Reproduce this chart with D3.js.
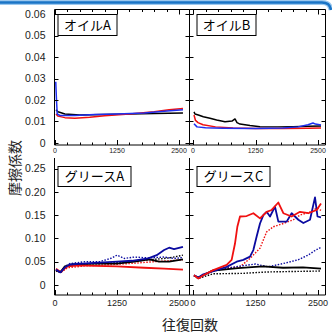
<!DOCTYPE html>
<html><head><meta charset="utf-8">
<script src="https://cdn.jsdelivr.net/npm/d3@7"></script>
<style>body{margin:0;background:#fff}svg{display:block}</style>
</head><body>
<svg id="c" width="332" height="335"></svg>
<script>
// ---- data ----
const panelNames = ["オイルA", "オイルB", "グリースA", "グリースC"];
const xTicks = [0, 1250, 2500];
const yTicksOil = [0, 0.01, 0.02, 0.03, 0.04, 0.05, 0.06];
const yTickLabelsOil = ["0", "0.01", "0.02", "0.03", "0.04", "0.05", "0.06"];
const yTicksGrease = [0, 0.05, 0.10, 0.15, 0.20, 0.25];
const yTickLabelsGrease = ["0", "0.05", "0.10", "0.15", "0.20", "0.25"];
const xLabel = "往復回数";
const yLabel = "摩擦係数";

const oilA_black = [[20,0.0155],[60,0.0145],[200,0.0135],[500,0.013],[1000,0.0132],[1500,0.0135],[2000,0.0137],[2580,0.014]];
const oilA_red = [[20,0.0135],[60,0.0125],[200,0.0118],[400,0.0115],[700,0.012],[1000,0.0127],[1500,0.0135],[2000,0.0145],[2300,0.0155],[2580,0.016]];
const oilA_blue = [[15,0.0285],[30,0.02],[45,0.0135],[100,0.0128],[400,0.0128],[800,0.0132],[1250,0.0135],[1800,0.014],[2200,0.0148],[2580,0.0155]];

const oilB_black = [[20,0.0145],[40,0.0135],[107,0.013],[207,0.0122],[340,0.0115],[473,0.0107],[640,0.0099],[780,0.0102],[840,0.0112],[880,0.0095],[940,0.0088],[1140,0.0081],[1340,0.0076],[1700,0.0075],[2000,0.0076],[2300,0.0078],[2560,0.0079]];
const oilB_red = [[20,0.013],[50,0.0105],[100,0.0095],[200,0.0085],[450,0.0075],[800,0.007],[1250,0.0068],[1800,0.0068],[2300,0.0069],[2560,0.007]];
const oilB_blue = [[20,0.009],[80,0.0075],[250,0.0071],[600,0.0069],[1250,0.0068],[1800,0.007],[2100,0.0075],[2300,0.0085],[2400,0.0093],[2450,0.0088],[2560,0.0084]];

const greaseA_blue = [[20,0.033],[110,0.027],[200,0.038],[300,0.044],[550,0.046],[880,0.048],[1250,0.05],[1550,0.052],[1880,0.057],[2050,0.064],[2200,0.075],[2300,0.08],[2400,0.077],[2580,0.082]];
const greaseA_blueDot = [[20,0.033],[110,0.026],[200,0.04],[300,0.046],[600,0.05],[900,0.05],[1150,0.058],[1250,0.064],[1400,0.057],[1600,0.06],[1900,0.058],[2200,0.06],[2400,0.057],[2580,0.059]];
const greaseA_black = [[20,0.032],[110,0.028],[200,0.04],[350,0.044],[800,0.046],[1250,0.046],[1600,0.05],[1900,0.055],[2100,0.05],[2300,0.05],[2580,0.055]];
const greaseA_blackDot = [[20,0.03],[110,0.027],[250,0.04],[600,0.045],[1000,0.046],[1500,0.05],[2000,0.055],[2300,0.058],[2580,0.064]];
const greaseA_red = [[20,0.035],[110,0.028],[250,0.04],[500,0.042],[800,0.041],[1250,0.04],[1800,0.037],[2200,0.035],[2580,0.033]];
const greaseA_redDot = [[20,0.032],[110,0.026],[250,0.037],[600,0.041],[1000,0.043],[1500,0.046],[2000,0.05],[2300,0.052],[2580,0.054]];

const greaseC_red = [[20,0.021],[107,0.014],[207,0.021],[407,0.032],[673,0.043],[773,0.054],[840,0.089],[887,0.125],[940,0.147],[1073,0.148],[1207,0.154],[1340,0.143],[1473,0.157],[1573,0.161],[1707,0.177],[1807,0.154],[1973,0.147],[2140,0.157],[2307,0.154],[2473,0.161],[2560,0.175]];
const greaseC_blue = [[20,0.021],[107,0.016],[207,0.023],[473,0.032],[673,0.039],[873,0.05],[1007,0.054],[1140,0.061],[1207,0.075],[1273,0.104],[1340,0.132],[1407,0.15],[1473,0.157],[1540,0.147],[1640,0.168],[1707,0.136],[1873,0.136],[1973,0.154],[2107,0.14],[2207,0.133],[2340,0.14],[2440,0.188],[2490,0.147],[2560,0.145]];
const greaseC_redDot = [[20,0.021],[107,0.016],[400,0.032],[700,0.037],[940,0.039],[1140,0.057],[1340,0.079],[1473,0.114],[1607,0.125],[1807,0.132],[2007,0.14],[2140,0.15],[2340,0.157],[2480,0.165],[2560,0.16]];
const greaseC_blueDot = [[20,0.02],[107,0.015],[400,0.03],[900,0.04],[1250,0.045],[1500,0.039],[1800,0.046],[2100,0.054],[2300,0.064],[2440,0.074],[2560,0.081]];
const greaseC_black = [[20,0.02],[107,0.016],[400,0.031],[900,0.036],[1250,0.039],[1400,0.04],[1800,0.037],[2200,0.038],[2560,0.035]];
const greaseC_blackDot = [[20,0.02],[107,0.014],[400,0.024],[1000,0.025],[1500,0.028],[2000,0.029],[2560,0.03]];

// ---- styles ----
const RED = "#f01010", BLUE = "#1f2ff0", NAVY = "#0a0aa0", BLACK = "#000";
const svg = d3.select("#c");
const NUMF = "'Liberation Sans', Arial, sans-serif";
const CJKF = "'Noto Sans CJK JP', sans-serif";

// decorative top line
const deco = d3.path(); deco.moveTo(0, 2.5); deco.lineTo(322, 2.5); deco.quadraticCurveTo(330, 2.5, 331, 10);
svg.append("path").attr("d", deco.toString()).attr("fill", "none").attr("stroke", "#9cc8ee").attr("stroke-width", 5);
svg.append("path").attr("d", deco.toString()).attr("fill", "none").attr("stroke", "#1a74c6").attr("stroke-width", 2.5);

const panels = [
  {name: panelNames[0], xr: [55, 179], left: 54.5, right: 189.5, top: 9.5, bottom: 145, yd: yTicksOil, yl: yTickLabelsOil, yr: [143, 14], ydom: [0, 0.06], topBorder: true, yLabels: true, xfs: 7, lw: 1.5,
    series: [{d: oilA_black, c: BLACK}, {d: oilA_red, c: RED}, {d: oilA_blue, c: BLUE}]},
  {name: panelNames[1], xr: [193, 318], left: 189.5, right: 325.5, top: 9.5, bottom: 145, yd: yTicksOil, yl: yTickLabelsOil, yr: [143, 14], ydom: [0, 0.06], topBorder: true, yLabels: false, xfs: 7, lw: 1.5,
    series: [{d: oilB_black, c: BLACK}, {d: oilB_red, c: RED}, {d: oilB_blue, c: BLUE}]},
  {name: panelNames[2], xr: [55, 179], left: 54.5, right: 189.5, top: 158, bottom: 295, yd: yTicksGrease, yl: yTickLabelsGrease, yr: [285, 168.5], ydom: [0, 0.25], topBorder: false, yLabels: true, xfs: 9, lw: 1.8,
    series: [{d: greaseA_blackDot, c: BLACK, dot: true}, {d: greaseA_redDot, c: RED, dot: true}, {d: greaseA_blueDot, c: NAVY, dot: true},
             {d: greaseA_black, c: BLACK}, {d: greaseA_red, c: RED}, {d: greaseA_blue, c: NAVY}]},
  {name: panelNames[3], xr: [193, 318], left: 189.5, right: 325.5, top: 158, bottom: 295, yd: yTicksGrease, yl: yTickLabelsGrease, yr: [285, 168.5], ydom: [0, 0.25], topBorder: false, yLabels: false, xfs: 9, lw: 1.8,
    series: [{d: greaseC_blackDot, c: BLACK, dot: true}, {d: greaseC_redDot, c: RED, dot: true}, {d: greaseC_blueDot, c: NAVY, dot: true},
             {d: greaseC_black, c: BLACK}, {d: greaseC_blue, c: NAVY}, {d: greaseC_red, c: RED}]}
];

const minorX = d3.range(0, 2501, 250);

panels.forEach((p, i) => {
  const x = d3.scaleLinear().domain([0, 2500]).range(p.xr);
  const y = d3.scaleLinear().domain(p.ydom).range(p.yr);
  const g = svg.append("g");
  const ln = (x1, y1, x2, y2, w) => g.append("line").attr("x1", x1).attr("y1", y1).attr("x2", x2).attr("y2", y2).attr("stroke", "#000").attr("stroke-width", w || 1);

  // series
  const line = d3.line().x(d => x(d[0])).y(d => y(d[1]));
  p.series.forEach(s => {
    g.append("path").datum(s.d).attr("d", line).attr("fill", "none").attr("stroke", s.c)
      .attr("stroke-width", s.dot ? 1.4 : p.lw).attr("stroke-dasharray", s.dot ? "1.5,1.5" : null)
      .attr("stroke-linejoin", "round");
  });

  // frame
  ln(p.left, p.top, p.left, p.bottom);
  ln(p.left, p.bottom, p.right, p.bottom);
  ln(p.right, p.top, p.right, p.bottom);
  if (p.topBorder) ln(p.left, p.top, p.right, p.top);

  // y ticks
  p.yd.forEach((v, k) => {
    const yy = Math.round(y(v)) + 0.5;
    if (i % 2 === 0) ln(p.left, yy, p.left + 4, yy);
    else ln(p.left - 4, yy, p.left + 4, yy);
    if (i % 2 === 1) ln(p.right - 4, yy, p.right, yy);
    if (p.yLabels) {
      g.append("text").attr("x", p.left - 9).attr("y", y(v)).attr("dy", "0.36em").attr("text-anchor", "end")
        .attr("font-family", NUMF).attr("font-size", 10.5).attr("fill", "#222").text(p.yl[k]);
    }
  });

  // x ticks
  minorX.forEach(v => {
    const xx = Math.round(x(v)) + 0.5;
    const len = xTicks.includes(v) ? 5 : 2.5;
    ln(xx, p.bottom, xx, p.bottom - len);
    if (p.topBorder) ln(xx, p.top, xx, p.top + len);
  });
  xTicks.forEach(v => {
    g.append("text").attr("x", x(v)).attr("y", p.bottom + (p.xfs === 7 ? 8 : 11)).attr("text-anchor", "middle")
      .attr("font-family", NUMF).attr("font-size", p.xfs).attr("fill", "#222").text(v);
  });

  // legend box
  const bx = p.left + (i % 2 === 0 ? 3.5 : 7.5);
  const by = p.topBorder ? 14.5 : 166.5;
  const bw = i < 2 ? 59 : 73, bh = i < 2 ? 21 : 20;
  g.append("rect").attr("x", bx).attr("y", by).attr("width", bw).attr("height", bh).attr("fill", "#fff").attr("stroke", "#000").attr("stroke-width", 1);
  g.append("text").attr("x", bx + bw / 2).attr("y", by + bh / 2).attr("dy", "0.36em").attr("text-anchor", "middle")
    .attr("font-family", CJKF).attr("font-size", 13).attr("fill", "#000").text(p.name);
});

svg.append("text").attr("x", 190).attr("y", 330).attr("text-anchor", "middle").attr("font-family", CJKF)
  .attr("font-size", 14).attr("fill", "#222").text(xLabel);
svg.append("text").attr("transform", "translate(15,168) rotate(-90)").attr("dy", "0.36em").attr("text-anchor", "middle")
  .attr("font-family", CJKF).attr("font-size", 14).attr("fill", "#222").text(yLabel);
</script>
</body></html>
